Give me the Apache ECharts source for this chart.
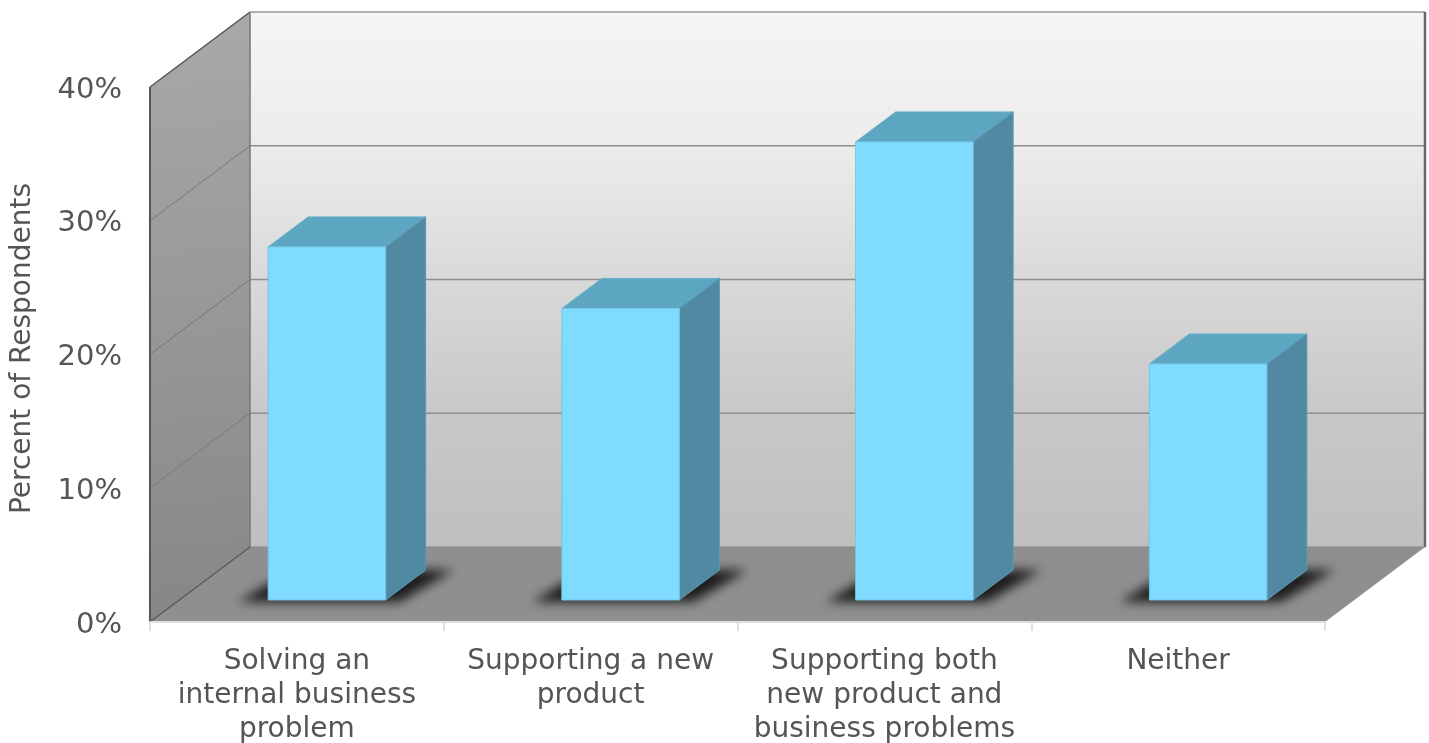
<!DOCTYPE html>
<html>
<head>
<meta charset="utf-8">
<style>html,body{margin:0;padding:0;background:#fff}#c{width:1429px;height:743px}</style>
<script src="https://cdn.jsdelivr.net/npm/echarts@6/dist/echarts.min.js"></script>
</head>
<body>
<div id="c"></div>
<script>
const categories = ['Solving an\ninternal business\nproblem', 'Supporting a new\nproduct', 'Supporting both\nnew product and\nbusiness problems', 'Neither'];
const respondents = [26.4, 21.8, 34.25, 17.65];
const wallLines = [10, 20, 30];
const axisMax = 40;
const axisStep = 10;
const axisTitle = 'Percent of Respondents';

const ROOM_DX = 100, ROOM_DY = -75, BAR_DX = 40, BAR_DY = -30, BAR_SHIFT_X = 30, BAR_SHIFT_Y = -22, OFF = 3000;
const font = '"DejaVu Sans", Verdana, sans-serif';
const stops = (x, y, x2, y2, list) => new echarts.graphic.LinearGradient(x, y, x2, y2, list.map((c) => ({offset: c[0], color: c[1]})));
const poly = (points, style, z2) => ({type: 'polygon', shape: {points}, style, z2: z2 || 0});
const line = (a, b, stroke, lineWidth, z2) => ({type: 'line', shape: {x1: a[0], y1: a[1], x2: b[0], y2: b[1]}, style: {stroke, lineWidth}, z2: z2 || 1});

function renderRoom(params, api) {
  const c = params.coordSys;
  const l = c.x, r = c.x + c.width, t = c.y, b = c.y + c.height;
  const d = (p) => [p[0] + ROOM_DX, p[1] + ROOM_DY];
  const children = [
    poly([d([l, t]), d([r, t]), d([r, b]), d([l, b])], {fill: stops(0, 0, 0, 1, [[0, '#f5f5f5'], [0.25, '#ececec'], [0.5, '#d9d9d9'], [0.75, '#c8c8c8'], [1, '#bfbfbf']])}),
    poly([[l, t], d([l, t]), d([l, b]), [l, b]], {fill: stops(0.2, 0, 0.8, 1, [[0, '#a9a9a9'], [1, '#868686']])}),
    poly([[l, b], d([l, b]), d([r, b]), [r, b]], {fill: '#8f8f8f'}),
    line([l, t], d([l, t]), '#555', 1.5, 3),
    line([l, t], [l, b], '#555', 2, 3),
    line([l, b], d([l, b]), '#555', 1.2, 3),
    line(d([l, t]), d([l, b]), '#777', 1.5, 3),
    line(d([l, t]), d([r, t]), '#999', 1.5, 3),
    line(d([r, t]), d([r, b]), '#666', 2.5, 3),
    line(d([l, b]), d([r, b]), '#888', 1.2, 3)
  ];
  wallLines.forEach((v) => {
    const y = api.coord([0, v])[1];
    children.push(line(d([l, y]), d([r, y]), '#8e8e8e', 1.5, 2));
    children.push(line([l, y], d([l, y]), '#777', 1, 2));
  });
  return {type: 'group', children};
}

function renderBar(params, api) {
  const band = api.size([1, 0])[0];
  const w = band * 0.4;
  const p0 = api.coord([api.value(0), 0]);
  const p1 = api.coord([api.value(0), api.value(1)]);
  const x0 = p0[0] - w / 2 + BAR_SHIFT_X;
  const x1 = x0 + w;
  const yb = p0[1] + BAR_SHIFT_Y;
  const yt = p1[1] + BAR_SHIFT_Y;
  const dx = BAR_DX, dy = BAR_DY;
  const sh = (p) => [p[0] - OFF, p[1]];
  return {type: 'group', children: [
    poly([sh([x0 - 30, yb + 2]), sh([x1 + 14, yb + 2]), sh([x1 + 68, yb - 30]), sh([x0 + 24, yb - 30])],
      {fill: '#000', shadowBlur: 11, shadowColor: '#1c1c1c', shadowOffsetX: OFF}, 0),
    poly([[x0, yt], [x0 + dx, yt + dy], [x1 + dx, yt + dy], [x1, yt]],
      {fill: '#5da6c1', stroke: '#6ab2cb', lineWidth: 1}, 2),
    poly([[x1, yt], [x1 + dx, yt + dy], [x1 + dx, yb + dy], [x1, yb]],
      {fill: '#5089a1', stroke: '#5a9ab3', lineWidth: 1}, 2),
    poly([[x0, yt], [x1, yt], [x1, yb], [x0, yb]],
      {fill: '#7fdbff', stroke: '#74c5e4', lineWidth: 1}, 3)
  ]};
}

const chart = echarts.init(document.getElementById('c'), null, {renderer: 'canvas'});
chart.setOption({
  animation: false,
  backgroundColor: '#fff',
  grid: {left: 150, top: 87, width: 1175, height: 535, containLabel: false, outerBoundsMode: 'none'},
  xAxis: {
    type: 'category',
    data: categories,
    z: 10,
    axisLine: {lineStyle: {color: '#dedede', width: 2}},
    axisTick: {show: true, length: 9, alignWithLabel: false, lineStyle: {color: '#dedede', width: 2}},
    axisLabel: {interval: 0, margin: 23, color: '#555', fontFamily: font, fontSize: 28, lineHeight: 34, verticalAlign: 'top'}
  },
  yAxis: {
    type: 'value',
    min: 0,
    max: axisMax,
    interval: axisStep,
    name: axisTitle,
    nameLocation: 'middle',
    nameGap: 113,
    nameRotate: 90,
    nameTextStyle: {color: '#555', fontFamily: font, fontSize: 28, padding: [0, 0, 0, 12]},
    axisLine: {show: false},
    axisTick: {show: false},
    splitLine: {show: false},
    axisLabel: {margin: 28, color: '#555', fontFamily: font, fontSize: 29, formatter: '{value}%', verticalAlign: 'top', lineHeight: 6}
  },
  series: [
    {type: 'custom', name: 'room', renderItem: renderRoom, data: [[0, 0]], z: 1, silent: true, clip: false},
    {type: 'custom', name: 'Percent of Respondents', renderItem: renderBar,
      data: respondents.map((v, i) => [i, v]), encode: {x: 0, y: 1}, z: 2, clip: false}
  ]
});
</script>
</body>
</html>
